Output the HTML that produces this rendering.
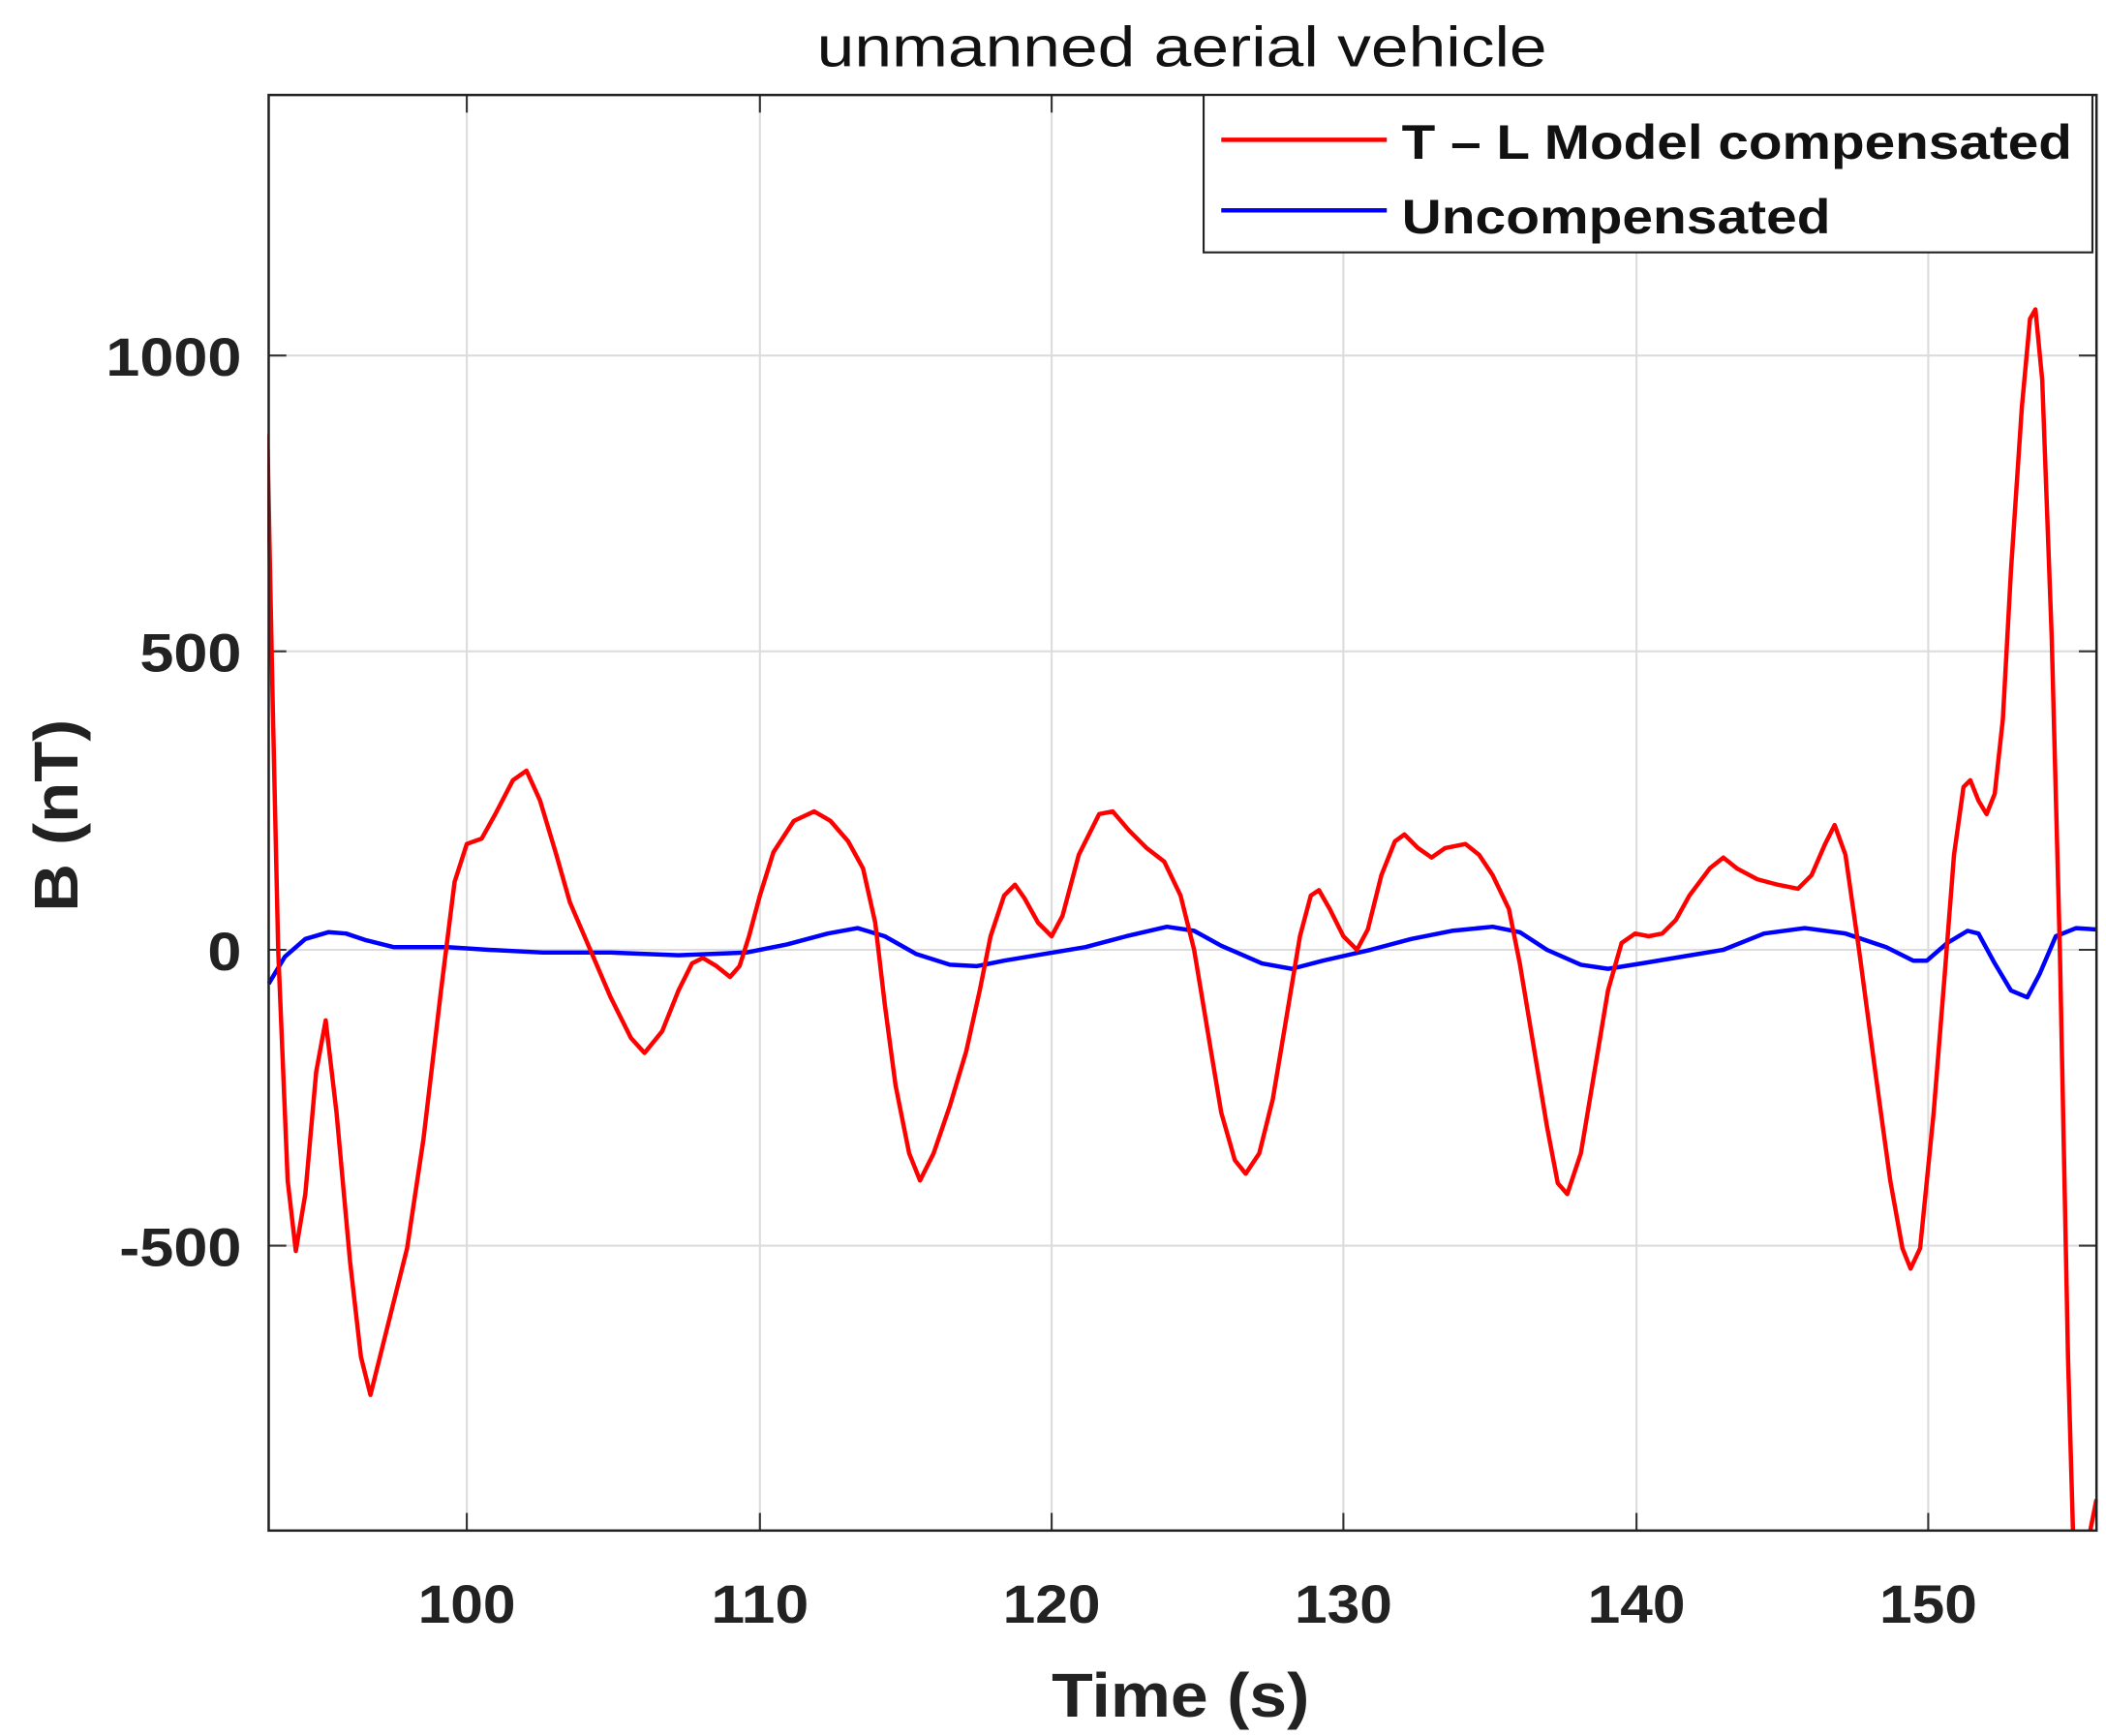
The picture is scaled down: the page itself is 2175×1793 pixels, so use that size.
<!DOCTYPE html>
<html><head><meta charset="utf-8"><style>html,body{margin:0;padding:0;background:#fff}svg{display:block}</style></head>
<body>
<svg width="2175" height="1793" viewBox="0 0 1552 1279.4" preserveAspectRatio="none" xmlns="http://www.w3.org/2000/svg" font-family="Liberation Sans, Arial, sans-serif">
<rect width="1552" height="1280" fill="#fff"/>
<g stroke="#dcdcdc" stroke-width="1.5">
<line x1="344" y1="70" x2="344" y2="1128"/><line x1="560" y1="70" x2="560" y2="1128"/><line x1="775" y1="70" x2="775" y2="1128"/><line x1="990" y1="70" x2="990" y2="1128"/><line x1="1206" y1="70" x2="1206" y2="1128"/><line x1="1421" y1="70" x2="1421" y2="1128"/>
<line x1="198" y1="262" x2="1545" y2="262"/><line x1="198" y1="480" x2="1545" y2="480"/><line x1="198" y1="700" x2="1545" y2="700"/><line x1="198" y1="918" x2="1545" y2="918"/>
</g>
<g stroke="#333" stroke-width="1.5">
<line x1="344" y1="1128" x2="344" y2="1115"/><line x1="560" y1="1128" x2="560" y2="1115"/><line x1="775" y1="1128" x2="775" y2="1115"/><line x1="990" y1="1128" x2="990" y2="1115"/><line x1="1206" y1="1128" x2="1206" y2="1115"/><line x1="1421" y1="1128" x2="1421" y2="1115"/>
<line x1="344" y1="70" x2="344" y2="83"/><line x1="560" y1="70" x2="560" y2="83"/><line x1="775" y1="70" x2="775" y2="83"/><line x1="990" y1="70" x2="990" y2="83"/><line x1="1206" y1="70" x2="1206" y2="83"/><line x1="1421" y1="70" x2="1421" y2="83"/>
<line x1="198" y1="262" x2="211" y2="262"/><line x1="198" y1="480" x2="211" y2="480"/><line x1="198" y1="700" x2="211" y2="700"/><line x1="198" y1="918" x2="211" y2="918"/>
<line x1="1545" y1="262" x2="1532" y2="262"/><line x1="1545" y1="480" x2="1532" y2="480"/><line x1="1545" y1="700" x2="1532" y2="700"/><line x1="1545" y1="918" x2="1532" y2="918"/>
</g>
<defs><clipPath id="c"><rect x="197" y="70" width="1349" height="1058"/></clipPath></defs>
<g clip-path="url(#c)" fill="none" stroke-width="3.2" stroke-linejoin="round">
<polyline stroke="#0000ff" points="198,725 210,705 225,692 242,687 255,688 270,693 290,698 330,698 360,700 400,702 450,702 500,704 550,702 580,696 610,688 632,684 652,690 675,703 700,711 720,712 740,708 770,703 800,698 830,690 860,683 880,686 900,697 930,710 952,714 975,708 1010,700 1040,692 1070,686 1100,683 1120,687 1140,700 1165,711 1185,714 1210,710 1240,705 1270,700 1300,688 1330,684 1360,688 1390,698 1410,708 1420,708 1435,695 1450,686 1458,688 1470,710 1482,730 1494,735 1503,718 1515,690 1530,684 1545,685"/>
<polyline stroke="#ff0000" points="197,320 201,520 205,700 212,870 218,922 225,880 233,790 240,752 248,820 258,930 266,1000 273,1028 280,1000 290,960 300,920 312,840 325,730 335,650 344,622 355,618 365,600 378,575 388,568 398,590 410,630 420,665 435,700 450,735 465,765 475,776 488,760 500,730 510,710 518,706 528,712 538,720 545,712 552,690 560,660 570,628 585,605 600,598 612,605 625,620 636,640 645,680 652,740 660,800 670,850 678,870 688,850 700,815 712,775 722,730 730,690 740,660 748,652 755,662 765,680 775,690 783,675 795,630 810,600 820,598 832,612 845,625 858,635 870,660 880,700 890,760 900,820 910,855 918,865 928,850 938,810 948,750 958,690 966,660 972,656 980,670 990,690 1000,700 1008,685 1018,645 1028,620 1035,615 1045,625 1055,632 1065,625 1080,622 1090,630 1100,645 1112,670 1120,710 1130,770 1140,830 1148,872 1155,880 1165,850 1175,790 1185,730 1195,695 1205,688 1215,690 1225,688 1235,678 1245,660 1260,640 1270,632 1280,640 1295,648 1310,652 1325,655 1335,645 1345,622 1352,608 1360,630 1370,700 1382,790 1393,870 1402,920 1408,935 1415,920 1425,820 1433,720 1440,630 1447,580 1452,575 1458,590 1464,600 1470,585 1476,530 1482,420 1490,300 1496,235 1500,228 1505,280 1512,470 1518,700 1524,1000 1528,1140"/>
<polyline stroke="#ff0000" points="1540,1130 1545,1105"/>
</g>
<rect x="198" y="70" width="1347" height="1058" fill="none" stroke="#222" stroke-width="1.8"/>
<rect x="887" y="70" width="655" height="116" fill="#fff" stroke="#222" stroke-width="1.5"/>
<line x1="900" y1="103" x2="1022" y2="103" stroke="#ff0000" stroke-width="3.2"/>
<line x1="900" y1="155" x2="1022" y2="155" stroke="#0000ff" stroke-width="3.2"/>
<g font-weight="bold" font-size="36" fill="#111" lengthAdjust="spacingAndGlyphs">
<text x="1033" y="117" textLength="494" lengthAdjust="spacingAndGlyphs">T – L Model compensated</text>
<text x="1033" y="172" textLength="316" lengthAdjust="spacingAndGlyphs">Uncompensated</text>
</g>
<text x="602" y="49" font-size="42" textLength="538" lengthAdjust="spacingAndGlyphs" fill="#111">unmanned aerial vehicle</text>
<g font-weight="bold" font-size="40" fill="#222">
<text x="78" y="277" textLength="100" lengthAdjust="spacingAndGlyphs">1000</text>
<text x="103" y="495" textLength="75" lengthAdjust="spacingAndGlyphs">500</text>
<text x="153" y="715" textLength="25" lengthAdjust="spacingAndGlyphs">0</text>
<text x="88" y="933" textLength="90" lengthAdjust="spacingAndGlyphs">-500</text>
</g>
<g font-weight="bold" font-size="40" fill="#222">
<text x="308" y="1196" textLength="72" lengthAdjust="spacingAndGlyphs">100</text>
<text x="524" y="1196" textLength="72" lengthAdjust="spacingAndGlyphs">110</text>
<text x="739" y="1196" textLength="72" lengthAdjust="spacingAndGlyphs">120</text>
<text x="954" y="1196" textLength="72" lengthAdjust="spacingAndGlyphs">130</text>
<text x="1170" y="1196" textLength="72" lengthAdjust="spacingAndGlyphs">140</text>
<text x="1385" y="1196" textLength="72" lengthAdjust="spacingAndGlyphs">150</text>
</g>
<text x="775" y="1265" font-weight="bold" font-size="46" textLength="190" lengthAdjust="spacingAndGlyphs" fill="#222">Time (s)</text>
<text transform="translate(57,672) rotate(-90)" font-weight="bold" font-size="46" textLength="142" lengthAdjust="spacingAndGlyphs" fill="#222">B (nT)</text>
</svg>
</body></html>
